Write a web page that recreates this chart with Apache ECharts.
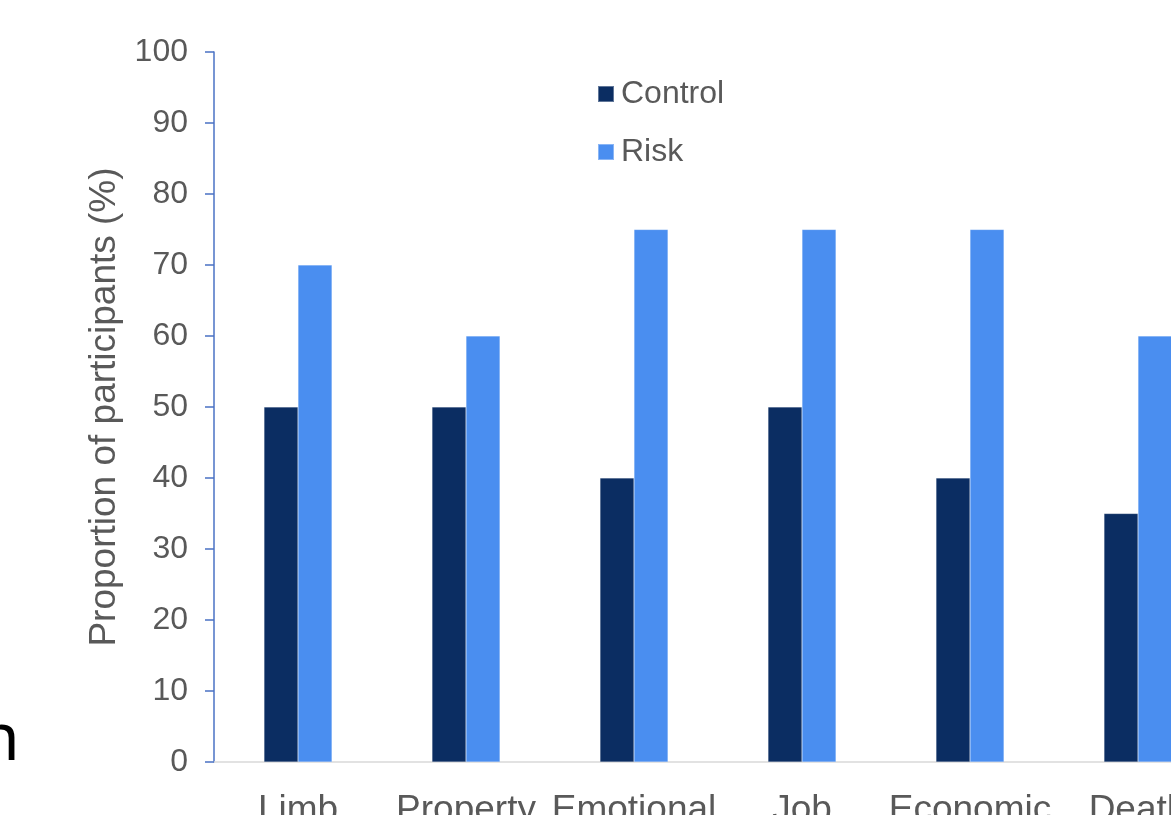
<!DOCTYPE html>
<html>
<head>
<meta charset="utf-8">
<script src="https://cdn.jsdelivr.net/npm/echarts@6/dist/echarts.min.js"></script>
<style>
  html, body { margin: 0; padding: 0; background: #ffffff; }
  #chart { width: 1171px; height: 815px; }
</style>
</head>
<body>
<div id="chart"></div>
<script>
// Proportion of participants reporting each concern, by group
const categories = ['Limb', 'Property', 'Emotional', 'Job', 'Economic', 'Death'];
const controlValues = [50, 50, 40, 50, 40, 35];
const riskValues = [70, 60, 75, 75, 75, 60];
const yTicks = { min: 0, max: 100, interval: 10 };

const FONT = '"Liberation Sans", Arial, sans-serif';
const TEXT_GREY = '#595959';

const chart = echarts.init(document.getElementById('chart'), null, { renderer: 'canvas' });

chart.setOption({
  backgroundColor: '#ffffff',
  animation: false,
  textStyle: { fontFamily: FONT },
  grid: {
    left: 214, top: 52, width: 1008, height: 710,
    containLabel: false,
    outerBoundsMode: 'none'
  },
  legend: {
    orient: 'vertical',
    left: 597,
    top: 78,
    padding: 0,
    itemWidth: 16,
    itemHeight: 16,
    itemGap: 26,
    icon: 'rect',
    textStyle: { fontSize: 32, color: TEXT_GREY, fontFamily: FONT, padding: [0, 0, 0, 2] },
    data: ['Control', 'Risk']
  },
  xAxis: {
    type: 'category',
    data: categories,
    axisLine: { show: true, lineStyle: { color: '#d9d9d9', width: 1.5 } },
    axisTick: { show: false },
    axisLabel: { fontSize: 37, color: TEXT_GREY, margin: 30, fontFamily: FONT, interval: 0 },
    splitLine: { show: false }
  },
  yAxis: {
    type: 'value',
    min: yTicks.min,
    max: yTicks.max,
    interval: yTicks.interval,
    name: 'Proportion of participants (%)',
    nameLocation: 'middle',
    nameRotate: 90,
    nameGap: 84,
    nameTextStyle: { fontSize: 37, color: TEXT_GREY, fontFamily: FONT },
    axisLine: { show: true, lineStyle: { color: '#4a72c4', width: 1.5 } },
    axisTick: { show: true, inside: false, length: 9, lineStyle: { color: '#4a72c4', width: 1.5 } },
    axisLabel: { fontSize: 32, color: TEXT_GREY, margin: 26, fontFamily: FONT },
    splitLine: { show: false }
  },
  series: [
    {
      name: 'Control',
      type: 'bar',
      data: controlValues,
      barWidth: 34,
      barGap: '0%',
      itemStyle: { color: '#0b2d62', borderColor: 'rgba(255,255,255,0.35)', borderWidth: 0.5 }
    },
    {
      name: 'Risk',
      type: 'bar',
      data: riskValues,
      barWidth: 34,
      barGap: '0%',
      itemStyle: { color: '#4a8ef0', borderColor: 'rgba(255,255,255,0.35)', borderWidth: 0.5 }
    }
  ],
  graphic: [
    {
      type: 'text',
      left: -21,
      top: 708,
      style: {
        text: 'n',
        fontSize: 66,
        fontFamily: '"Noto Sans", sans-serif',
        fill: '#000000'
      }
    }
  ]
});
</script>
</body>
</html>
